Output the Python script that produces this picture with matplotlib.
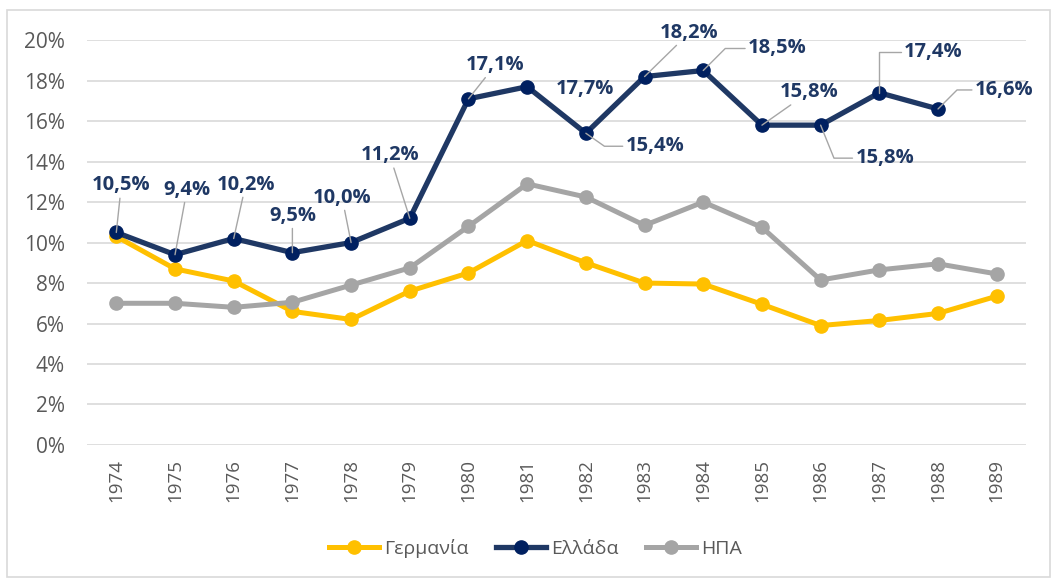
import matplotlib.pyplot as plt
from matplotlib.patches import Rectangle
from matplotlib.ticker import FuncFormatter

plt.rcParams['font.family'] = ['Open Sans', 'DejaVu Sans']

years = [str(y) for y in range(1974, 1990)]
germany = [10.3, 8.7, 8.1, 6.6, 6.2, 7.6, 8.5, 10.1, 9.0, 8.0, 7.95, 6.95, 5.9, 6.15, 6.5, 7.35]
greece = [10.5, 9.4, 10.2, 9.5, 10.0, 11.2, 17.1, 17.7, 15.4, 18.2, 18.5, 15.8, 15.8, 17.4, 16.6]
usa = [7.0, 7.0, 6.8, 7.05, 7.9, 8.75, 10.8, 12.9, 12.25, 10.85, 12.0, 10.75, 8.15, 8.65, 8.95, 8.45]

# label offsets (pixels) from each Greek point, and leader elbow angle at the point (None = straight)
label_offsets = [(5, 47), (12, 65), (12, 54), (0, 37), (-9, 45), (-20, 63), (27, 34), (58, -2),
                 (69, -13), (45, 44), (74, 22), (47, 33), (64, -33), (54, 41), (66, 19)]
elbows = [None, None, None, None, None, None, None, None,
          -35, None, 45, None, -68, 90, 45]

c_ger = '#FFC000'
c_gre = '#1F3864'
c_gre_m = '#002060'
c_usa = '#A5A5A5'

fig = plt.figure(figsize=(10.54, 5.80), dpi=100)
ax = fig.add_axes([0.0825, 0.2328, 0.891, 0.698])

x = list(range(len(years)))
ax.plot(x, germany, color=c_ger, lw=3.6, marker='o', ms=9.5, label='Γερμανία')
ax.plot(x[:len(greece)], greece, color=c_gre, lw=3.8, marker='o', ms=9.5, mfc=c_gre_m, mec=c_gre_m,
        label='Ελλάδα')
ax.plot(x, usa, color=c_usa, lw=3.6, marker='o', ms=9.5, label='ΗΠΑ')

for i, v in enumerate(greece):
    dx, dy = label_offsets[i]
    props = dict(arrowstyle='-', color='#A6A6A6', lw=1, shrinkA=0, shrinkB=0)
    if elbows[i] is not None:
        props['connectionstyle'] = f'angle,angleA=0,angleB={elbows[i]},rad=0'
    if i == 7:
        props = None
    ax.annotate(f'{v:.1f}%'.replace('.', ','), (i, v), xytext=(dx, dy), textcoords='offset pixels',
                ha='center', va='center', fontsize=14.5, fontweight='bold', color=c_gre,
                arrowprops=props)

ax.set_xlim(-0.5, len(years) - 0.5)
ax.set_ylim(0, 20)
ax.set_yticks(range(0, 21, 2))
ax.yaxis.set_major_formatter(FuncFormatter(lambda v, p: f'{v:.0f}%'))
ax.set_xticks(x)
ax.set_xticklabels(years, rotation=90)
ax.tick_params(axis='both', length=0, colors='#595959')
ax.tick_params(axis='y', pad=16, labelsize=15)
ax.tick_params(axis='x', pad=10, labelsize=13.5)
ax.grid(axis='y', color='#D9D9D9', lw=1.2)
ax.set_axisbelow(True)
for s in ax.spines.values():
    s.set_visible(False)

fig.legend(loc='center', bbox_to_anchor=(0.508, 0.055), ncol=3, frameon=False, fontsize=14,
           handlelength=2.6, columnspacing=1.4, handletextpad=0.25, labelcolor='#595959')

fig.patches.append(Rectangle((7 / 1054, 3 / 580), 1043 / 1054, 567 / 580, transform=fig.transFigure,
                             fill=False, edgecolor='#D9D9D9', lw=1.2))

fig.savefig('out.png', dpi=100)
